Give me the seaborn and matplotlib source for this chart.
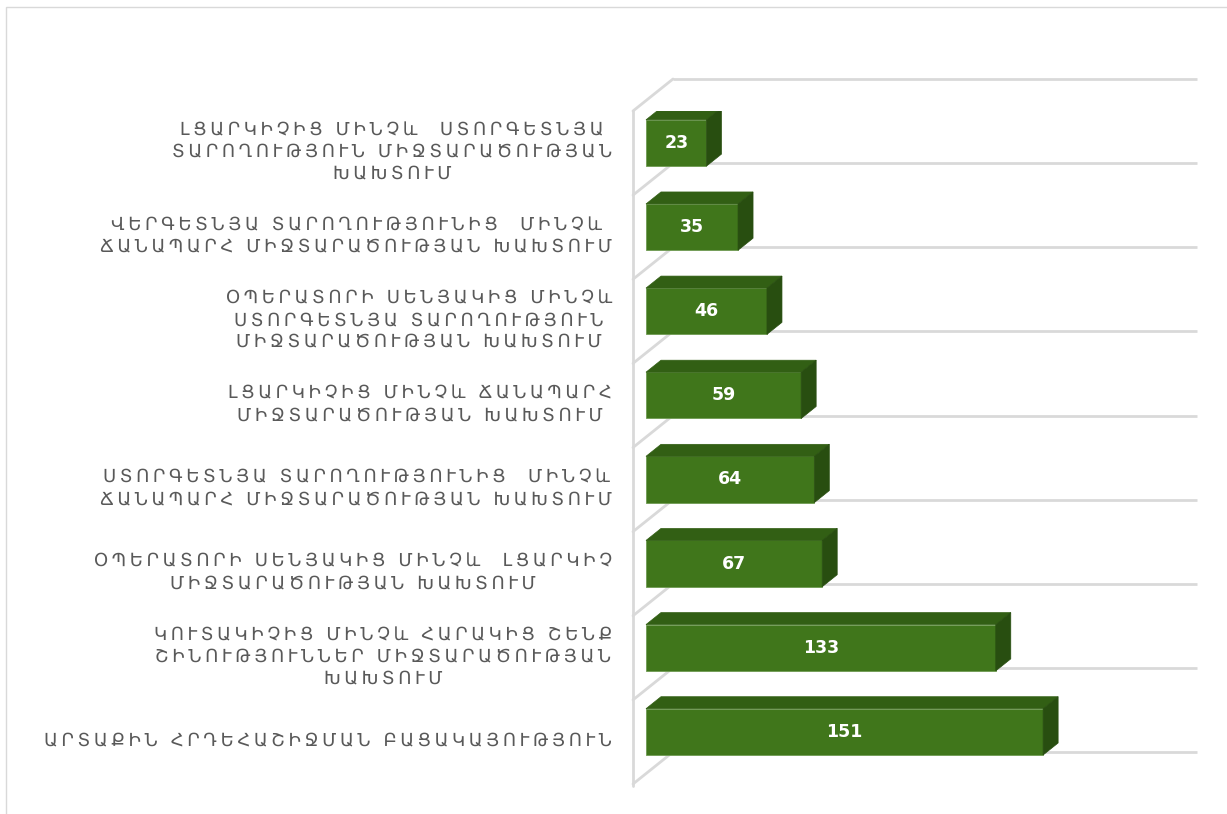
#!/usr/bin/env python3
"""
Խախտումների տեսակներ - 3D հորիզոնական սյունակներ
"""

import pandas as pd
import matplotlib
matplotlib.use('Agg')
import matplotlib.pyplot as plt
import matplotlib.transforms as mtransforms
from matplotlib.patches import Polygon, Rectangle
import seaborn as sns

# տվյալներ (վերևից ներքև)
categories = [
    'ԼՑԱՐԿԻՉԻՑ ՄԻՆՉև  ՍՏՈՐԳԵՏՆՅԱ\nՏԱՐՈՂՈՒԹՅՈՒՆ ՄԻՋՏԱՐԱԾՈՒԹՅԱՆ\nԽԱԽՏՈՒՄ',
    'ՎԵՐԳԵՏՆՅԱ ՏԱՐՈՂՈՒԹՅՈՒՆԻՑ  ՄԻՆՉև\nՃԱՆԱՊԱՐՀ ՄԻՋՏԱՐԱԾՈՒԹՅԱՆ ԽԱԽՏՈՒՄ',
    'ՕՊԵՐԱՏՈՐԻ ՍԵՆՅԱԿԻՑ ՄԻՆՉև\nՍՏՈՐԳԵՏՆՅԱ ՏԱՐՈՂՈՒԹՅՈՒՆ\nՄԻՋՏԱՐԱԾՈՒԹՅԱՆ ԽԱԽՏՈՒՄ',
    'ԼՑԱՐԿԻՉԻՑ ՄԻՆՉև ՃԱՆԱՊԱՐՀ\nՄԻՋՏԱՐԱԾՈՒԹՅԱՆ ԽԱԽՏՈՒՄ',
    'ՍՏՈՐԳԵՏՆՅԱ ՏԱՐՈՂՈՒԹՅՈՒՆԻՑ  ՄԻՆՉև\nՃԱՆԱՊԱՐՀ ՄԻՋՏԱՐԱԾՈՒԹՅԱՆ ԽԱԽՏՈՒՄ',
    'ՕՊԵՐԱՏՈՐԻ ՍԵՆՅԱԿԻՑ ՄԻՆՉև  ԼՑԱՐԿԻՉ\nՄԻՋՏԱՐԱԾՈՒԹՅԱՆ ԽԱԽՏՈՒՄ',
    'ԿՈՒՏԱԿԻՉԻՑ ՄԻՆՉև ՀԱՐԱԿԻՑ ՇԵՆՔ\nՇԻՆՈՒԹՅՈՒՆՆԵՐ ՄԻՋՏԱՐԱԾՈՒԹՅԱՆ\nԽԱԽՏՈՒՄ',
    'ԱՐՏԱՔԻՆ ՀՐԴԵՀԱՇԻՋՄԱՆ ԲԱՑԱԿԱՅՈՒԹՅՈՒՆ',
]
values = [23, 35, 46, 59, 64, 67, 133, 151]

# գույներ
FRONT = '#40761b'
TOP = '#325f14'
SIDE = '#284e10'
GRID = '#d9d9d9'
TEXT = '#595959'


def letter_spaced(s):
    """տառերի միջև բարակ բացատ (լայն տառաշար)"""
    return '\n'.join('\u2009'.join(line) for line in s.split('\n'))


sns.set_theme(style='white')
plt.rcParams['font.family'] = ['DejaVu Sans']

W, H = 1227, 814
fig = plt.figure(figsize=(W / 100, H / 100), dpi=100)
ax_rect = [633 / W, 1 - 784 / H, (1157 - 633) / W, (784 - 111) / H]
ax = fig.add_axes(ax_rect)

df = pd.DataFrame({'label': categories, 'value': values})
sns.barplot(data=df, x='value', y='label', orient='h', color=FRONT,
            saturation=1, width=0.55, edgecolor='#6f9a52', linewidth=0.6,
            ax=ax, zorder=3)

xmin, xmax = -4.94, 194.3
ytop, ybot = -0.38, 7.62
ax.set_xlim(xmin, xmax)
ax.set_ylim(ybot, ytop)
ax.axis('off')

# պիքսել -> տվյալների միավոր
px_x = (xmax - xmin) / (ax_rect[2] * W)
px_y = (ybot - ytop) / (ax_rect[3] * H)

# 3D պատ և ցանցի գծեր
wall_dx, wall_dy = 40 * px_x, 32 * px_y
for k in range(len(categories) + 1):
    yk = ytop + k
    ax.plot([xmin + wall_dx, xmax + wall_dx], [yk - wall_dy, yk - wall_dy],
            color=GRID, lw=2, zorder=1, clip_on=False, solid_capstyle='butt')
    ax.plot([xmin, xmin + wall_dx], [yk, yk - wall_dy],
            color=GRID, lw=2, zorder=1, clip_on=False)
ax.plot([xmin, xmin], [ytop, ybot + 2 * px_y], color=GRID, lw=2, zorder=1,
        clip_on=False)

# սյունակների խորություն
bars = list(ax.patches)
dx, dy = 15 * px_x, 12 * px_y
for p, v in zip(bars, values):
    x0, y0 = p.get_x(), p.get_y()
    w, h = p.get_width(), p.get_height()
    top = Polygon([(x0, y0), (x0 + dx, y0 - dy), (x0 + w + dx, y0 - dy), (x0 + w, y0)],
                  closed=True, facecolor=TOP, edgecolor=TOP, lw=0.5, zorder=4)
    side = Polygon([(x0 + w, y0), (x0 + w + dx, y0 - dy),
                    (x0 + w + dx, y0 + h - dy), (x0 + w, y0 + h)],
                   closed=True, facecolor=SIDE, edgecolor=SIDE, lw=0.5, zorder=4)
    ax.add_patch(top)
    ax.add_patch(side)
    ax.text(x0 + w / 2, y0 + h / 2, str(v), ha='center', va='center',
            color='white', fontsize=12.5, fontweight='bold', zorder=5)

# կատեգորիաների անվանումներ
trans = mtransforms.blended_transform_factory(ax.transAxes, ax.transData)
for i, lab in enumerate(categories):
    ax.text(-0.040, i + 9 * px_y, letter_spaced(lab), transform=trans,
            ha='right', va='center', multialignment='center', fontsize=13,
            color=TEXT, linespacing=1.25)

# շրջանակ
fig.patches.append(Rectangle((6 / W, -0.05), 1.1, 1 - 7 / H + 0.05,
                             transform=fig.transFigure, fill=False,
                             edgecolor=GRID, lw=1))

plt.savefig('out.png', dpi=100)
plt.close()
